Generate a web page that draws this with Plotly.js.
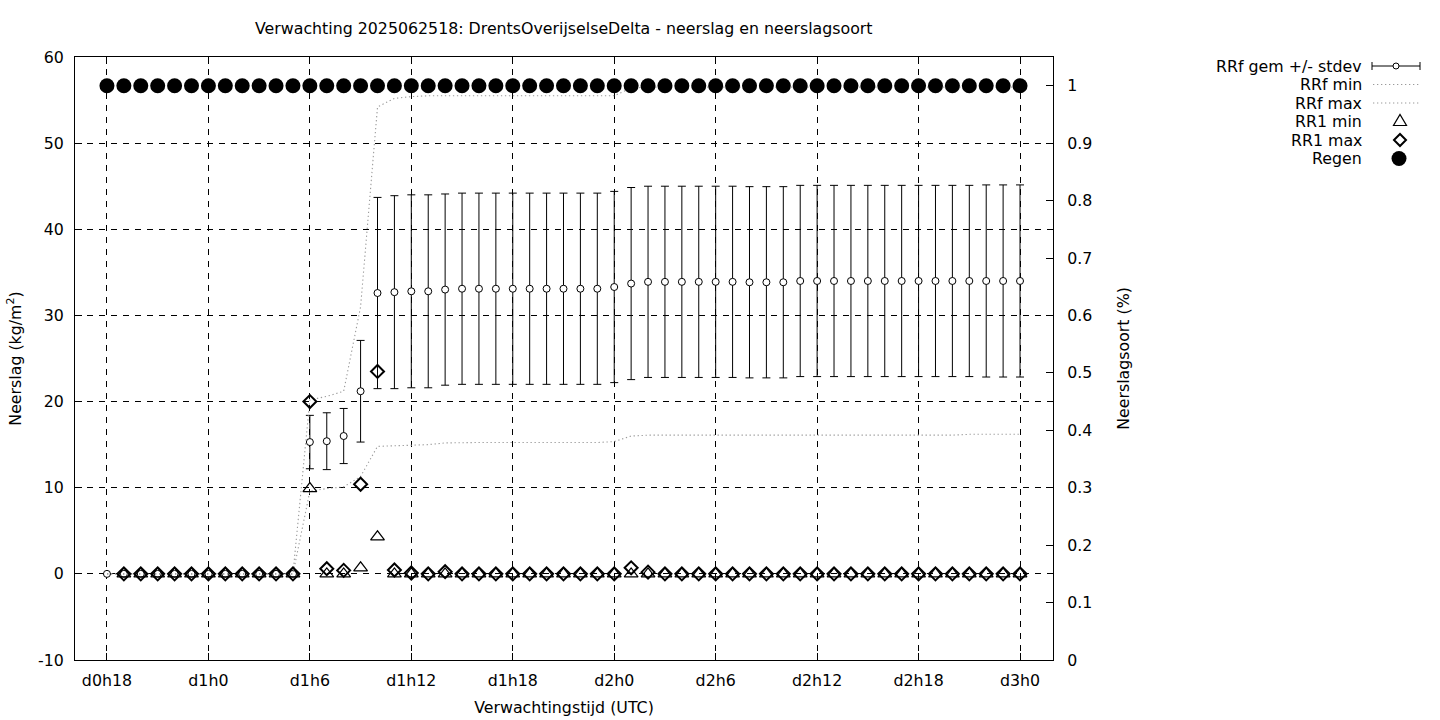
<!DOCTYPE html>
<html>
<head>
<meta charset="utf-8">
<script src="https://cdn.plot.ly/plotly-3.0.1.min.js"></script>
<style>html,body{margin:0;padding:0;background:#fff;}#chart{width:1440px;height:720px;}</style>
</head>
<body>
<div id="chart"></div>
<script>
// ---------- DATA ----------
const leadTimes = ['d0h18','d0h19','d0h20','d0h21','d0h22','d0h23',
  'd1h0','d1h1','d1h2','d1h3','d1h4','d1h5','d1h6','d1h7','d1h8','d1h9','d1h10','d1h11',
  'd1h12','d1h13','d1h14','d1h15','d1h16','d1h17','d1h18','d1h19','d1h20','d1h21','d1h22','d1h23',
  'd2h0','d2h1','d2h2','d2h3','d2h4','d2h5','d2h6','d2h7','d2h8','d2h9','d2h10','d2h11',
  'd2h12','d2h13','d2h14','d2h15','d2h16','d2h17','d2h18','d2h19','d2h20','d2h21','d2h22','d2h23',
  'd3h0'];
const tickLabels = ['d0h18','d1h0','d1h6','d1h12','d1h18','d2h0','d2h6','d2h12','d2h18','d3h0'];

const rrfMean = [0,0,0,0,0,0,0,0,0,0,0,0,
  15.3,15.4,16.0,21.2,32.6,32.7,32.8,32.8,33.0,33.1,
  33.1,33.1,33.1,33.1,33.1,33.1,33.1,33.1,
  33.3,33.7,
  33.9,33.9,33.9,33.9,33.9,33.9,
  33.85,33.85,33.85,
  34.0,34.0,34.0,34.0,34.0,34.0,34.0,34.0,34.0,34.0,34.0,34.0,34.0,34.0];
const rrfStdev = [0,0,0,0,0,0,0,0,0,0,0,0,
  3.1,3.3,3.2,5.9,11.1,11.2,11.2,11.2,11.1,11.1,
  11.1,11.1,11.1,11.1,11.1,11.1,11.1,11.1,
  11.1,11.15,
  11.1,11.1,11.1,11.1,11.1,11.1,11.1,11.1,11.1,11.1,
  11.1,11.1,11.1,11.1,11.1,11.1,11.1,11.1,11.1,11.1,
  11.15,11.15,11.15];
const rrfMin = [0,0,0,0,0,0,0,0,0,0,0,0,
  9.6,9.9,10.1,11.3,14.8,14.85,14.95,15.0,15.2,
  15.25,15.25,15.25,15.25,15.25,15.25,15.25,15.25,15.25,
  15.35,16.0,
  16.1,16.1,16.1,16.1,16.1,16.1,16.1,16.1,16.1,16.1,
  16.1,16.1,16.1,16.1,16.1,16.1,16.1,16.1,16.1,
  16.2,16.2,16.2,16.2];
const rrfMax = [0,0,0,0,0,0,0,0,0,0,0,0,
  20.2,20.6,21.2,31.0,54.2,55.2,55.4,
  55.5,55.5,55.5,55.5,55.5,55.5,55.5,55.5,55.5,55.5,55.5,55.5,
  56.4,
  56.5,56.5,56.5,56.5,56.5,56.5,56.5,56.5,56.5,56.5,56.5,56.5,
  56.5,56.5,56.5,56.5,56.5,56.5,56.5,56.5,56.5,56.5,56.5];
const rr1Min = [null,0,0,0,0,0,0,0,0,0,0,0,
  9.9,0,0,0.7,4.3,
  0,0,0,0,0,0,0,0,0,0,0,0,0,0,0,0,0,0,0,0,0,0,
  0,0,0,0,0,0,0,0,0,0,0,0,0,0,0,0,0,0,0];
const rr1Max = [null,0,0,0,0,0,0,0,0,0,0,0,
  20.0,0.6,0.4,10.4,23.5,0.45,0.1,0,0.25,
  0,0,0,0,0,0,0,0,0,0,
  0.7,0.2,
  0,0,0,0,0,0,0,0,0,0,0,0,0,0,0,0,0,0,0,0,0,0];
const regen = [1,1,1,1,1,1,1,1,1,1,1,1,1,1,1,1,1,1,1,1,1,1,1,1,1,1,1,1,
  1,1,1,1,1,1,1,1,1,1,1,1,1,1,1,1,1,1,1,1,1,1,1,1,1,1,1];
const yTicks = [-10,0,10,20,30,40,50,60];
const yTickText = ['-10','0','10','20','30','40','50','60'];
const y2Ticks = [0,0.1,0.2,0.3,0.4,0.5,0.6,0.7,0.8,0.9,1];
const y2TickText = ['0','0.1','0.2','0.3','0.4','0.5','0.6','0.7','0.8','0.9','1'];
const legendNames = ['RRf gem +/- stdev','RRf min','RRf max','RR1 min','RR1 max','Regen'];

// ---------- STYLE ----------
const FONT = 'DejaVu Sans, sans-serif';
const FS = 15.8;
const M = {l:75, r:387, t:57, b:60};
const W = 1440, H = 720;
const PW = W - M.l - M.r, PH = H - M.t - M.b;
const px = x => (x - M.l) / PW;
const py = y => (H - M.b - y) / PH;
const dotColor = '#9a9a9a';
const dotDash = '1.3px,2.7px';

const traces = [
  {x: leadTimes, y: rrfMean, type:'scatter', mode:'markers', name: legendNames[0],
   marker:{symbol:'circle', size:7, color:'#fff', line:{color:'#000', width:1}},
   error_y:{type:'data', array: rrfStdev, symmetric:true, color:'#000', thickness:1, width:4}},
  {x: leadTimes, y: rrfMin, type:'scatter', mode:'lines', name: legendNames[1],
   line:{color: dotColor, width:1.1, dash: dotDash}},
  {x: leadTimes, y: rrfMax, type:'scatter', mode:'lines', name: legendNames[2],
   line:{color: dotColor, width:1.1, dash: dotDash}},
  {x: leadTimes, y: rr1Min, type:'scatter', mode:'markers', name: legendNames[3],
   marker:{symbol:'triangle-up-open', size:12, color:'#000', line:{color:'#000', width:1.2}}},
  {x: leadTimes, y: rr1Max, type:'scatter', mode:'markers', name: legendNames[4],
   marker:{symbol:'diamond-open', size:10, color:'#000', line:{color:'#000', width:2}}},
  {x: leadTimes, y: regen, type:'scatter', mode:'markers', name: legendNames[5], yaxis:'y2',
   marker:{symbol:'circle', size:15, color:'#000', line:{width:0}}}
];

// legend drawn at right, text right-aligned, symbol to the right
const legRows = [66, 84.5, 103, 121.5, 140, 158.5];
const textRight = 1364;
const annotations = legendNames.map((n,i) => ({
  text: n, xref:'paper', yref:'paper', x: px(textRight), y: py(legRows[i]),
  xanchor:'right', yanchor:'middle', showarrow:false,
  font:{family: FONT, size:FS, color:'#000'}
}));
annotations.push({
  text:'Verwachting 2025062518: DrentsOverijselseDelta - neerslag en neerslagsoort',
  xref:'paper', yref:'paper', x:0.5, y: py(29), xanchor:'center', yanchor:'middle',
  showarrow:false, font:{family: FONT, size:FS, color:'#000'}
});

const shapes = [];
// errorbar legend symbol
const r0 = legRows[0];
shapes.push({type:'line', xref:'paper', yref:'paper', x0:px(1372), x1:px(1420), y0:py(r0), y1:py(r0), line:{color:'#000', width:1}});
shapes.push({type:'line', xref:'paper', yref:'paper', x0:px(1372), x1:px(1372), y0:py(r0-4), y1:py(r0+4), line:{color:'#000', width:1}});
shapes.push({type:'line', xref:'paper', yref:'paper', x0:px(1420), x1:px(1420), y0:py(r0-4), y1:py(r0+4), line:{color:'#000', width:1}});
shapes.push({type:'circle', xref:'paper', yref:'paper', x0:px(1393), x1:px(1399), y0:py(r0-3), y1:py(r0+3), fillcolor:'#fff', line:{color:'#000', width:1}});
// dotted line symbols
[1,2].forEach(i => shapes.push({type:'line', xref:'paper', yref:'paper', x0:px(1373), x1:px(1419), y0:py(legRows[i]), y1:py(legRows[i]), line:{color: dotColor, width:1.1, dash: dotDash}}));
// triangle
const tr = legRows[3], tx = 1400;
shapes.push({type:'path', xref:'paper', yref:'paper',
  path:`M${px(tx-6.5)},${py(tr+4)} L${px(tx+6.5)},${py(tr+4)} L${px(tx)},${py(tr-7)} Z`,
  line:{color:'#000', width:1.2}});
// diamond
const dr = legRows[4], dx = 1400;
shapes.push({type:'path', xref:'paper', yref:'paper',
  path:`M${px(dx-6)},${py(dr)} L${px(dx)},${py(dr-6)} L${px(dx+6)},${py(dr)} L${px(dx)},${py(dr+6)} Z`,
  line:{color:'#000', width:2}});
// filled circle
const cr = legRows[5], cx = 1399;
shapes.push({type:'circle', xref:'paper', yref:'paper', x0:px(cx-7.5), x1:px(cx+7.5), y0:py(cr-7.5), y1:py(cr+7.5), fillcolor:'#000', line:{width:0}});

const layout = {
  width: W, height: H,
  margin: M,
  paper_bgcolor:'#fff', plot_bgcolor:'#fff',
  font:{family: FONT, size:FS, color:'#000'},
  showlegend:false,
  xaxis:{
    type:'category', range:[-1.89, 55.95],
    tickmode:'array', tickvals: tickLabels, ticktext: tickLabels,
    ticks:'inside', ticklen:7, tickcolor:'#000', tickwidth:1,
    showline:true, linecolor:'#000', linewidth:1, mirror:'ticks',
    showgrid:true, gridcolor:'#000', gridwidth:1, griddash:'6px,6px',
    zeroline:false, tickfont:{family: FONT, size:FS}, ticklabelstandoff:6,
    title:{text:'Verwachtingstijd (UTC)', font:{family: FONT, size:FS}, standoff:12}
  },
  yaxis:{
    range:[-10, 60], tickmode:'array', tickvals: yTicks, ticktext: yTickText,
    ticks:'inside', ticklen:7, tickcolor:'#000', tickwidth:1,
    showline:true, linecolor:'#000', linewidth:1,
    showgrid:true, gridcolor:'#000', gridwidth:1, griddash:'6px,6px',
    zeroline:false, tickfont:{family: FONT, size:FS}, ticklabelstandoff:7,
    title:{text:'Neerslag (kg/m<sup>2</sup>)', font:{family: FONT, size:FS}, standoff:12}
  },
  yaxis2:{
    overlaying:'y', side:'right', range:[0, 1.05],
    tickmode:'array', tickvals: y2Ticks, ticktext: y2TickText,
    ticks:'inside', ticklen:7, tickcolor:'#000', tickwidth:1,
    showline:true, linecolor:'#000', linewidth:1,
    showgrid:false, zeroline:false, tickfont:{family: FONT, size:FS}, ticklabelstandoff:10,
    title:{text:'Neerslagsoort (%)', font:{family: FONT, size:FS}, standoff:26}
  },
  annotations, shapes
};

Plotly.newPlot('chart', traces, layout, {staticPlot:true, displayModeBar:false});
</script>
</body>
</html>
